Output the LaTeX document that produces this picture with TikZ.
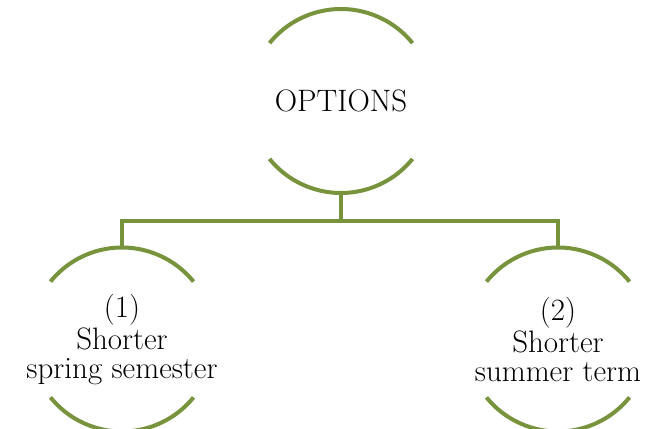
\documentclass[tikz,border=0pt]{standalone}
\usepackage{tikz}
\usetikzlibrary{positioning}
\definecolor{olive}{RGB}{119,147,60}

\begin{document}
\begin{tikzpicture}[
    x=0.5pt,
    y=0.5pt,
    font=\fontsize{15.5}{14.5}\selectfont,
    option/.style={
		circle,
		draw=none,
		text centered,
		align=center,
		inner sep=0pt,
		outer sep=0pt,
		minimum size=92pt
	},
	ring/.style={
		draw=olive,
		line width=2pt
	}
  ]

 \useasboundingbox (0,0) rectangle (649,429);

 % // the options
 \node [option] (options) at (341,328) {OPTIONS};
 \node [option] (spring) at (122,89.5) {(1)\\Shorter\\spring semester};
 \node [option] (summer) at (558,89.5) {(2)\\Shorter\\summer term};

 % arcs round each node
 \foreach \n in {options,spring,summer}{
   \draw [ring] ([shift={(39:46pt)}]\n.center) arc [start angle=39, end angle=141, radius=46pt];
   \draw [ring] ([shift={(219:46pt)}]\n.center) arc [start angle=219, end angle=321, radius=46pt];
   \coordinate (\n-top) at ([yshift=46pt]\n.center);
   \coordinate (\n-bottom) at ([yshift=-46pt]\n.center);
 }

 % // the tree
 \coordinate (split) at (341,208);
 \draw [ring] (options-bottom) -- (split);
 \draw [ring] (spring-top) |- (split) -| (summer-top);

\end{tikzpicture}
\end{document}
